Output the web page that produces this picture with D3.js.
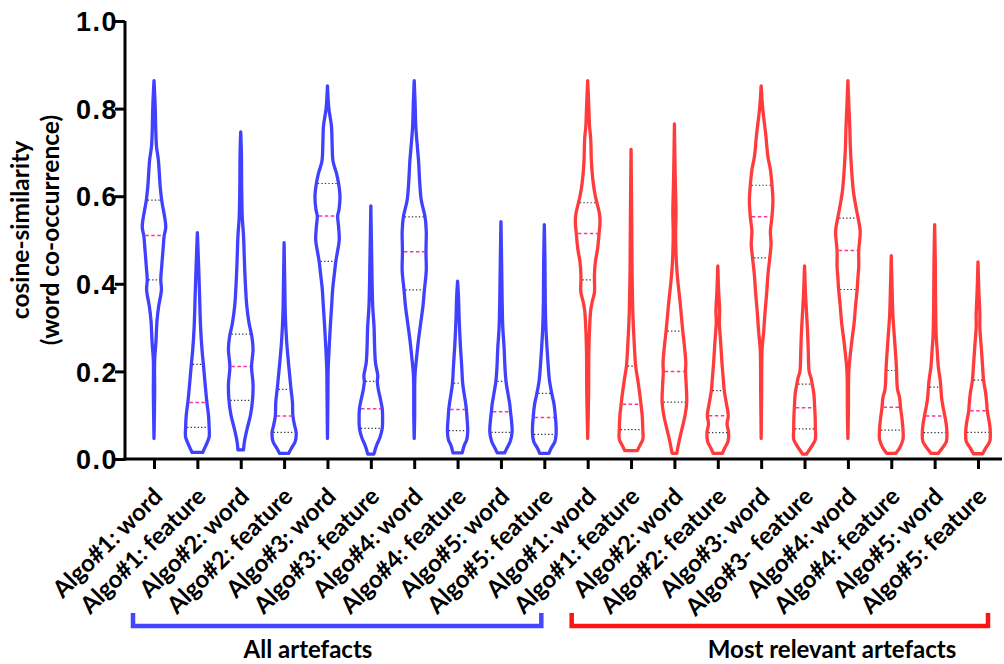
<!DOCTYPE html>
<html>
<head>
<meta charset="utf-8">
<script src="https://cdn.jsdelivr.net/npm/d3@7"></script>
<style>
  body { margin: 0; background: #fff; }
  svg { display: block; }
</style>
</head>
<body>
<div id="chart"></div>
<script>
// category labels, left half = all artefacts, right half = most relevant
var categories = [
	"Algo#1: word", "Algo#1: feature", "Algo#2: word", "Algo#2: feature", "Algo#3: word",
	"Algo#3: feature", "Algo#4: word", "Algo#4: feature", "Algo#5: word", "Algo#5: feature",
	"Algo#1: word", "Algo#1: feature", "Algo#2: word", "Algo#2: feature", "Algo#3: word",
	"Algo#3- feature", "Algo#4: word", "Algo#4: feature", "Algo#5: word", "Algo#5: feature"
];
var groups = ["All artefacts", "Most relevant artefacts"];
var categoryGroup = [0,0,0,0,0,0,0,0,0,0, 1,1,1,1,1,1,1,1,1,1];

var medians = [0.510, 0.129, 0.211, 0.098, 0.555, 0.115, 0.473, 0.113, 0.108, 0.095,
	0.515, 0.125, 0.200, 0.099, 0.553, 0.117, 0.476, 0.118, 0.098, 0.110];
var q1 = [0.409, 0.072, 0.134, 0.061, 0.451, 0.070, 0.386, 0.065, 0.061, 0.056,
	0.409, 0.067, 0.130, 0.060, 0.459, 0.069, 0.387, 0.066, 0.060, 0.061];
var q3 = [0.591, 0.216, 0.285, 0.159, 0.629, 0.177, 0.553, 0.173, 0.177, 0.150,
	0.585, 0.212, 0.292, 0.156, 0.625, 0.171, 0.550, 0.202, 0.164, 0.180];

// kernel density outline per violin: [cosine-similarity, relative density]
var densities = [
	[[0.864,0],[0.804,1.3],[0.744,2],[0.713,2.7],[0.683,4.7],[0.622,6.7],[0.591,8.3],[0.530,12.7],[0.510,11],[0.485,10],[0.439,8.3],[0.409,7.3],[0.386,8],[0.348,5],[0.317,3.3],[0.264,2],[0.226,0.7],[0.150,0.7],[0.047,0]],
	[[0.517,0],[0.45,1.2],[0.38,2.3],[0.30,3.5],[0.25,5],[0.216,6.5],[0.18,8],[0.15,9.3],[0.129,10.3],[0.10,12],[0.072,12.7],[0.05,12.7],[0.03,9],[0.015,5.7]],
	[[0.747,0],[0.70,0.7],[0.62,1],[0.55,1.7],[0.51,3],[0.45,4],[0.40,5],[0.35,6.5],[0.31,9],[0.28,12],[0.25,13.3],[0.211,11.7],[0.17,13.3],[0.134,12.7],[0.10,10.5],[0.07,7],[0.04,4],[0.021,3]],
	[[0.494,0],[0.40,0.7],[0.33,1.3],[0.27,2.7],[0.22,4.7],[0.18,6.5],[0.159,7.5],[0.13,9],[0.098,9.5],[0.075,11.5],[0.061,13],[0.04,12],[0.025,8],[0.013,5]],
	[[0.852,0],[0.80,1.5],[0.76,4.3],[0.72,5],[0.68,6],[0.65,10],[0.629,12],[0.60,13.5],[0.57,12.5],[0.555,11],[0.53,12],[0.50,12.7],[0.47,10.5],[0.451,9],[0.42,7.3],[0.39,5.7],[0.35,4.5],[0.30,3],[0.25,1.7],[0.20,0.7],[0.15,0.5],[0.047,0]],
	[[0.578,0],[0.45,1],[0.35,2],[0.30,3.5],[0.26,4],[0.22,5],[0.19,7.5],[0.177,7],[0.16,8],[0.14,10],[0.115,12.3],[0.09,12.7],[0.070,12.3],[0.05,10],[0.03,6],[0.011,3.3]],
	[[0.864,0],[0.81,1],[0.76,1.7],[0.71,3.5],[0.68,4.7],[0.63,6],[0.59,7.7],[0.553,11.7],[0.52,13],[0.473,12.7],[0.43,13],[0.386,11],[0.35,9.5],[0.31,7],[0.27,4.5],[0.23,2.5],[0.19,0.8],[0.10,0.5],[0.047,0]],
	[[0.406,0],[0.37,1],[0.32,1.7],[0.26,3],[0.21,4.5],[0.173,5.5],[0.15,7],[0.13,8.5],[0.113,9.5],[0.09,10.3],[0.065,11],[0.045,10],[0.03,7],[0.014,5]],
	[[0.542,0],[0.45,0.7],[0.36,1.3],[0.30,2],[0.25,3.5],[0.21,4.3],[0.177,5.5],[0.15,7.5],[0.125,9.5],[0.108,10.3],[0.085,11.5],[0.061,12],[0.04,10],[0.025,6.5],[0.014,4]],
	[[0.535,0],[0.45,0.7],[0.36,1],[0.30,1.7],[0.25,3],[0.21,4.3],[0.18,5.5],[0.150,8],[0.125,10.5],[0.095,12],[0.075,12.7],[0.056,12.7],[0.04,11.5],[0.025,7.5],[0.013,5]],
	[[0.864,0],[0.80,1.3],[0.76,2],[0.73,3.3],[0.68,4],[0.63,6],[0.60,8.3],[0.585,10],[0.56,12.7],[0.54,13.3],[0.515,12.3],[0.48,10.7],[0.45,8.3],[0.42,7.3],[0.409,7.3],[0.38,7.3],[0.36,5],[0.34,3.3],[0.31,2.3],[0.25,1.3],[0.15,1],[0.047,0]],
	[[0.707,0],[0.55,0.7],[0.45,1],[0.40,1.3],[0.33,2],[0.27,3.3],[0.212,5],[0.18,7.3],[0.15,9.3],[0.125,10.7],[0.10,12],[0.067,12.7],[0.045,12.7],[0.03,9.3],[0.019,6.7]],
	[[0.765,0],[0.65,0.8],[0.56,1.7],[0.52,1.3],[0.47,1.7],[0.43,2.7],[0.40,4],[0.35,6.5],[0.292,9],[0.26,10.7],[0.22,12.3],[0.200,12],[0.17,12.7],[0.130,13.3],[0.10,11.5],[0.07,8.3],[0.04,5],[0.013,2.5]],
	[[0.441,0],[0.38,1],[0.34,2],[0.31,1.7],[0.27,3],[0.22,4.5],[0.18,6],[0.156,7],[0.13,9],[0.099,11.3],[0.08,10],[0.060,11.7],[0.04,11],[0.025,7.5],[0.013,5]],
	[[0.852,0],[0.80,1.7],[0.74,5],[0.69,7.3],[0.66,10],[0.625,11.7],[0.59,12.7],[0.553,11.7],[0.52,10],[0.49,10.7],[0.459,9.3],[0.42,7.3],[0.38,6],[0.33,4],[0.29,2.7],[0.25,1],[0.15,0.5],[0.047,0]],
	[[0.441,0],[0.38,1],[0.34,2],[0.29,3.3],[0.25,4],[0.20,5],[0.185,7],[0.171,8.3],[0.15,10],[0.117,11],[0.095,11.5],[0.069,11.7],[0.045,11.7],[0.03,8],[0.011,2]],
	[[0.864,0],[0.81,1],[0.76,2],[0.71,2.7],[0.66,4],[0.61,6],[0.58,8.3],[0.550,11],[0.52,13.3],[0.476,11.7],[0.44,11.7],[0.41,10.7],[0.387,10],[0.35,8.3],[0.31,6.7],[0.27,4.3],[0.24,2.7],[0.20,1],[0.10,0.5],[0.047,0]],
	[[0.464,0],[0.38,1],[0.33,1.7],[0.28,3.3],[0.23,5],[0.202,5.7],[0.16,6.7],[0.14,9],[0.118,10],[0.09,11.7],[0.066,12.7],[0.045,12.7],[0.025,9],[0.013,5]],
	[[0.535,0],[0.45,0.7],[0.36,1],[0.28,1.7],[0.25,2.7],[0.21,4],[0.18,6],[0.164,6.7],[0.14,7.5],[0.12,9],[0.098,11],[0.08,12.5],[0.060,13.3],[0.04,12.7],[0.025,8.3],[0.013,4]],
	[[0.450,0],[0.38,1],[0.33,2],[0.30,2],[0.25,3.7],[0.21,5],[0.180,6],[0.15,8.3],[0.125,9.5],[0.110,10],[0.08,12.5],[0.061,13.3],[0.04,12.7],[0.025,8.3],[0.012,5]]
];
var yTicks = [0, 0.2, 0.4, 0.6, 0.8, 1.0];

var width = 1004, height = 664;
var groupColor = ["#4040ff", "#ff3b3b"];
var bracketColor = ["#4646ff", "#ff1414"];

var svg = d3.select("#chart").append("svg")
	.attr("width", width)
	.attr("height", height);

var y = d3.scaleLinear().domain([0, 1]).range([459, 21]);
var x = d3.scalePoint().domain(d3.range(categories.length)).range([154, 978]);
var maxDensity = d3.max(densities, function(d) { return d3.max(d, function(p) { return p[1]; }); });
var w = d3.scaleLinear().domain([0, maxDensity]).range([0, 12.5]);

// half width of a violin at a given value (linear between outline points)
function halfWidth(prof, v) {
	for (var i = 0; i < prof.length - 1; i++) {
		var a = prof[i], b = prof[i + 1];
		if (v <= a[0] && v >= b[0]) {
			var t = (a[0] - v) / (a[0] - b[0]);
			return w(a[1] + t * (b[1] - a[1]));
		}
	}
	return 0;
}

// violins
densities.forEach(function(prof, i) {
	var cx = x(i);
	var col = groupColor[categoryGroup[i]];
	var area = d3.area()
		.curve(d3.curveCatmullRom.alpha(0.5))
		.y(function(d) { return y(d[0]); })
		.x0(function(d) { return cx - w(d[1]); })
		.x1(function(d) { return cx + w(d[1]); });
	var g = svg.append("g").attr("class", "violin");
	g.append("path")
		.attr("d", area(prof))
		.attr("fill", "none")
		.attr("stroke", col)
		.attr("stroke-width", 3.3)
		.attr("stroke-linejoin", "round");

	[q1[i], q3[i]].forEach(function(q) {
		var hw = Math.max(halfWidth(prof, q) - 1.5, 2);
		g.append("line")
			.attr("x1", cx - hw).attr("x2", cx + hw)
			.attr("y1", y(q)).attr("y2", y(q))
			.attr("stroke", "#333")
			.attr("stroke-width", 1.2)
			.attr("stroke-dasharray", "1.3,2.2");
	});
	var mw = Math.max(halfWidth(prof, medians[i]) - 1.5, 2);
	g.append("line")
		.attr("x1", cx - mw).attr("x2", cx + mw)
		.attr("y1", y(medians[i])).attr("y2", y(medians[i]))
		.attr("stroke", "#ff3399")
		.attr("stroke-width", 1.5)
		.attr("stroke-dasharray", "3.5,2.5");
});

// y axis
var yAxis = svg.append("g")
	.attr("transform", "translate(125,0)")
	.call(d3.axisLeft(y).tickValues(yTicks).tickFormat(d3.format(".1f"))
		.tickSize(10).tickSizeOuter(0).tickPadding(-3));
yAxis.selectAll("path, line").attr("stroke", "#000").attr("stroke-width", 3);
yAxis.select(".domain").attr("d", "M0,460.5V21");
yAxis.selectAll("text")
	.attr("fill", "#000")
	.style("font-family", "'Liberation Sans', Arial, sans-serif")
	.style("font-weight", "bold")
	.style("font-size", "27px")
	.style("letter-spacing", "1.5px")
	.attr("dy", "0.36em");

// x axis
var xAxis = svg.append("g")
	.attr("transform", "translate(0,459)")
	.call(d3.axisBottom(x).tickSize(10).tickSizeOuter(0).tickFormat(""));
xAxis.selectAll("path, line").attr("stroke", "#000").attr("stroke-width", 3);
xAxis.select(".domain").attr("d", "M123.5,0H1002");

svg.append("g").selectAll("text")
	.data(categories)
	.enter().append("text")
	.attr("transform", function(d, i) { return "translate(" + (x(i) + 10) + ",498) rotate(-45)"; })
	.attr("text-anchor", "end")
	.style("font-family", "Lato, 'Open Sans', sans-serif")
	.style("font-weight", "bold")
	.style("font-size", "24px")
	.attr("fill", "#000")
	.text(function(d) { return d; });

// y title
var yTitle = svg.append("text")
	.attr("transform", "translate(0,230) rotate(-90)")
	.attr("text-anchor", "middle")
	.style("font-family", "Lato, 'Open Sans', sans-serif")
	.style("font-weight", "bold")
	.style("font-size", "24.5px")
	.attr("fill", "#000");
yTitle.append("tspan").attr("x", 0).attr("y", 29).text("cosine-similarity");
yTitle.append("tspan").attr("x", 0).attr("y", 59).text("(word co-occurrence)");

// group brackets
groups.forEach(function(name, gi) {
	var idx = d3.range(categories.length).filter(function(i) { return categoryGroup[i] === gi; });
	var x0 = x(idx[0]) - (gi === 0 ? 21 : 16);
	var x1 = x(idx[idx.length - 1]) + (gi === 0 ? -3 : 10);
	svg.append("path")
		.attr("d", "M" + x0 + ",613V626H" + x1 + "V613")
		.attr("fill", "none")
		.attr("stroke", bracketColor[gi])
		.attr("stroke-width", 4.5);
	svg.append("text")
		.attr("x", gi === 0 ? 308 : 832)
		.attr("y", 658)
		.attr("text-anchor", "middle")
		.style("font-family", "Lato, 'Open Sans', sans-serif")
		.style("font-weight", "bold")
		.style("font-size", "24px")
		.attr("fill", "#000")
		.text(name);
});
</script>
</body>
</html>
